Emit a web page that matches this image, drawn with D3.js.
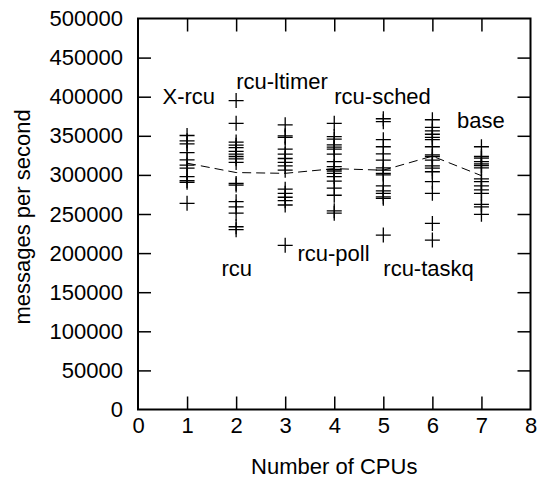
<!DOCTYPE html>
<html>
<head>
<meta charset="utf-8">
<script src="https://cdn.jsdelivr.net/npm/d3@7"></script>
<style>
  body { margin: 0; background: #fff; }
  svg { display: block; font-family: "Liberation Sans", Arial, sans-serif; }
</style>
</head>
<body>
<svg id="chart"></svg>
<script>
// per-CPU samples (messages per second)
const cpus = [1, 2, 3, 4, 5, 6, 7];
const cpu1 = [350400, 343600, 339700, 328600, 319200, 312400, 308600, 297800, 292700, 290600, 263700];
const cpu2 = [395000, 366000, 342000, 338000, 335000, 330000, 326500, 323500, 320500, 316000, 289000, 287000, 265800, 259000, 251000, 233700, 230000];
const cpu3 = [364000, 350000, 348000, 333000, 326500, 321000, 316000, 311500, 306000, 281700, 276500, 271400, 267000, 261500, 210000];
const cpu4 = [366000, 349000, 345700, 338500, 335500, 333000, 326500, 317000, 310600, 307000, 305000, 302000, 297800, 292000, 283000, 274000, 254000, 251000];
const cpu5 = [371800, 368000, 345000, 336000, 327000, 319000, 309000, 306000, 302000, 300000, 286000, 279500, 276500, 272000, 270000, 223000];
const cpu6 = [370500, 360700, 356400, 352000, 348000, 345000, 336000, 325600, 323500, 319000, 311500, 308600, 304000, 291400, 276500, 238000, 216700];
const cpu7 = [336000, 323500, 321400, 317000, 314000, 312000, 309000, 295000, 291400, 286000, 280800, 276500, 262400, 259000, 249600];
const samples = [cpu1, cpu2, cpu3, cpu4, cpu5, cpu6, cpu7];
const means = [315000, 303000, 302000, 308000, 306000, 324000, 299000];

const xTicks = [0, 1, 2, 3, 4, 5, 6, 7, 8];
const yTicks = [0, 50000, 100000, 150000, 200000, 250000, 300000, 350000, 400000, 450000, 500000];

const labelNames = ["X-rcu", "rcu-ltimer", "rcu-sched", "base", "rcu", "rcu-poll", "rcu-taskq"];
const labelX = [0.5, 2, 4, 6.5, 1.7, 3.25, 5];
const labelY = [400000, 420000, 400000, 370000, 180000, 200000, 180000];

const width = 539, height = 479;
const margin = {top: 18.5, right: 8.5, bottom: 69.5, left: 138};
const fontSize = 22;
const tickLen = 13;

const svg = d3.select("#chart").attr("width", width).attr("height", height);

const x = d3.scaleLinear().domain([0, 8]).range([margin.left, width - margin.right]);
const y = d3.scaleLinear().domain([0, 500000]).range([height - margin.bottom, margin.top]);

// axes (gnuplot style: ticks inward, mirrored)
const gx = svg.append("g").attr("transform", `translate(0,${y(0)})`)
    .call(d3.axisBottom(x).tickValues(xTicks).tickSizeInner(-tickLen).tickSizeOuter(0).tickPadding(8).tickFormat(d3.format("d")));
const gxTop = svg.append("g").attr("transform", `translate(0,${y(500000)})`)
    .call(d3.axisTop(x).tickValues(xTicks.slice(1, -1)).tickSizeInner(-tickLen).tickSizeOuter(0).tickFormat(""));
const gy = svg.append("g").attr("transform", `translate(${x(0)},0)`)
    .call(d3.axisLeft(y).tickValues(yTicks).tickSizeInner(-tickLen).tickSizeOuter(0).tickPadding(15).tickFormat(d3.format("d")));
const gyRight = svg.append("g").attr("transform", `translate(${x(8)},0)`)
    .call(d3.axisRight(y).tickValues(yTicks.slice(1, -1)).tickSizeInner(-tickLen).tickSizeOuter(0).tickFormat(""));

[gx, gxTop, gy, gyRight].forEach(g => {
    g.select(".domain").remove();
    g.selectAll(".tick line").attr("stroke", "#000").attr("stroke-width", 1.5);
    g.selectAll(".tick text")
        .attr("font-size", fontSize)
        .attr("font-family", "Liberation Sans, Arial, sans-serif")
        .attr("fill", "#000");
});
gx.selectAll(".tick line").filter(d => d === 0 || d === 8).remove();
gy.selectAll(".tick line").filter(d => d === 0 || d === 500000).remove();

svg.append("rect")
    .attr("x", x(0)).attr("y", y(500000))
    .attr("width", x(8) - x(0)).attr("height", y(0) - y(500000))
    .attr("fill", "none").attr("stroke", "#000").attr("stroke-width", 2);

// mean line
const line = d3.line().x((d, i) => x(cpus[i])).y(d => y(d));
svg.append("path")
    .attr("d", line(means))
    .attr("fill", "none")
    .attr("stroke", "#000")
    .attr("stroke-width", 1)
    .attr("stroke-dasharray", "9,5");

// plus markers
const pts = [];
samples.forEach((arr, i) => arr.forEach(v => pts.push({cpu: cpus[i], v})));
const s = 7.5;
svg.append("g").selectAll("path.pt")
    .data(pts)
    .enter().append("path")
    .attr("class", "pt")
    .attr("d", d => {
        const cx = x(d.cpu), cy = y(d.v);
        return `M${cx - s},${cy}H${cx + s}M${cx},${cy - s}V${cy + s}`;
    })
    .attr("stroke", "#000")
    .attr("stroke-width", 1.3)
    .attr("fill", "none");

// annotations
svg.append("g").selectAll("text")
    .data(labelNames)
    .enter().append("text")
    .attr("x", (d, i) => x(labelX[i]))
    .attr("y", (d, i) => y(labelY[i]))
    .attr("dy", "0.35em")
    .attr("font-size", fontSize)
    .attr("fill", "#000")
    .text(d => d);

// axis titles
svg.append("text")
    .attr("x", (x(0) + x(8)) / 2)
    .attr("y", 474)
    .attr("text-anchor", "middle")
    .attr("font-size", fontSize)
    .text("Number of CPUs");

svg.append("text")
    .attr("transform", `translate(30,${(y(0) + y(500000)) / 2 + 3}) rotate(-90)`)
    .attr("text-anchor", "middle")
    .attr("font-size", fontSize)
    .text("messages per second");
</script>
</body>
</html>
